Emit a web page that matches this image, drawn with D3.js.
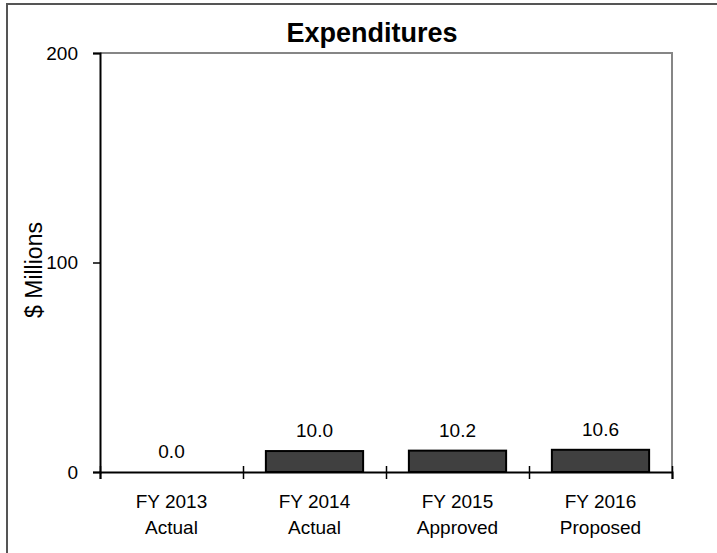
<!DOCTYPE html>
<html><head><meta charset="utf-8">
<script src="https://cdn.jsdelivr.net/npm/d3@7"></script>
<style>body{margin:0;background:#fff}text{font-family:"Liberation Sans",Arial,sans-serif}</style>
</head><body>
<script>
const categories = [["FY 2013","Actual"],["FY 2014","Actual"],["FY 2015","Approved"],["FY 2016","Proposed"]];
const values = [0.0, 10.0, 10.2, 10.6];
const yTicks = [0, 100, 200];
const title = "Expenditures";
const yLabel = "$  Millions";

const W = 717, H = 553;
const m = {left:100, top:53, right:672, bottom:472};
const svg = d3.select("body").append("svg").attr("width",W).attr("height",H);

// outer frame
svg.append("rect").attr("x",7).attr("y",4).attr("width",800).attr("height",700)
  .attr("fill","none").attr("stroke","#555").attr("stroke-width",2);

const x = d3.scaleBand().domain(d3.range(categories.length)).range([m.left, m.right]).paddingInner(0.32).paddingOuter(0.16);
const xb = d3.scaleLinear().domain([0, categories.length]).range([m.left, m.right]);
const y = d3.scaleLinear().domain([0,200]).range([m.bottom, m.top]);

// plot border top/right
svg.append("path").attr("d",`M${m.left},${m.top}H${m.right}V${m.bottom}`)
  .attr("fill","none").attr("stroke","#868686").attr("stroke-width",2);

// bars
svg.selectAll("rect.bar").data(values).join("rect").attr("class","bar")
  .attr("x",(d,i)=>x(i)).attr("width",x.bandwidth())
  .attr("y",d=>y(d)).attr("height",d=>y(0)-y(d))
  .attr("fill","#404040").attr("stroke","#000").attr("stroke-width",2)
  .style("display",d=>d>0?null:"none");

// value labels
svg.selectAll("text.val").data(values).join("text").attr("class","val")
  .attr("x",(d,i)=>x(i)+x.bandwidth()/2).attr("y",d=>y(d)-14)
  .attr("text-anchor","middle").attr("font-size",19).attr("fill","#000")
  .text(d=>d.toFixed(1));

// y axis
const ya = svg.append("g").attr("transform",`translate(${m.left},0)`)
  .call(d3.axisLeft(y).tickValues(yTicks).tickSize(7).tickPadding(15));
ya.select(".domain").attr("stroke","#000").attr("stroke-width",2);
ya.selectAll(".tick line").attr("stroke","#000").attr("stroke-width",1.5);
ya.selectAll(".tick text").attr("font-size",19).attr("fill","#000").attr("font-family","Liberation Sans, Arial, sans-serif");

// x axis line + ticks at boundaries
const xa = svg.append("g").attr("transform",`translate(0,${m.bottom})`)
  .call(d3.axisBottom(xb).tickValues(d3.range(categories.length+1)).tickSize(7).tickFormat(""));
xa.select(".domain").attr("stroke","#000").attr("stroke-width",2);
xa.selectAll(".tick line").attr("stroke","#000").attr("stroke-width",1.5).attr("y1",-6);

// category labels
const cl = svg.selectAll("text.cat").data(categories).join("text").attr("class","cat")
  .attr("text-anchor","middle").attr("font-size",19).attr("fill","#000");
cl.each(function(d,i){
  const t = d3.select(this);
  d.forEach((s,j)=>t.append("tspan").attr("x",x(i)+x.bandwidth()/2).attr("y",508+j*26).text(s));
});

// title
svg.append("text").attr("x",372).attr("y",42).attr("text-anchor","middle")
  .attr("font-size",27).attr("font-weight","bold").text(title);

// y label
svg.append("text").attr("transform",`translate(42,${270}) rotate(-90)`)
  .attr("text-anchor","middle").attr("font-size",23).text(yLabel);
</script>
</body></html>
